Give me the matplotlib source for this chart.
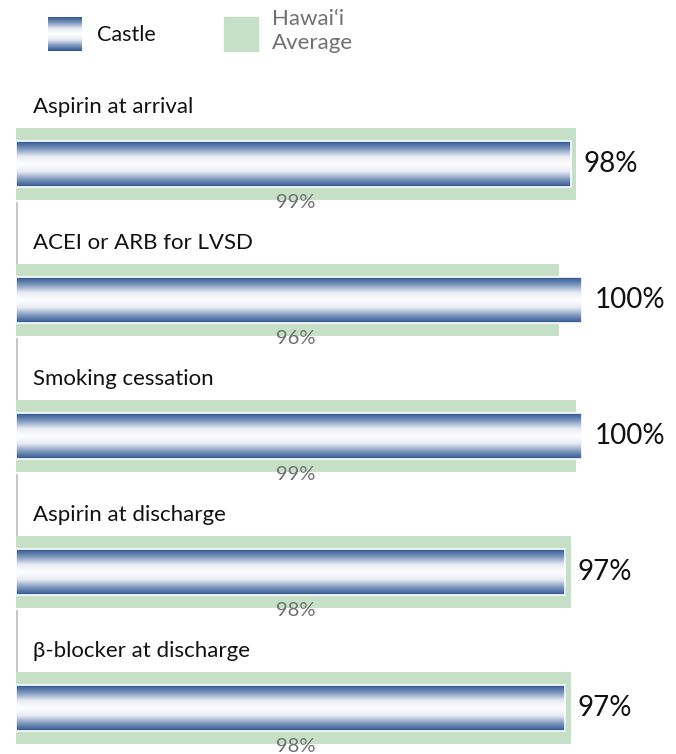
import numpy as np
import matplotlib.pyplot as plt
from matplotlib.colors import LinearSegmentedColormap
from matplotlib.patches import Rectangle

plt.rcParams['font.family'] = ['Lato', 'DejaVu Sans']

measures = ['Aspirin at arrival', 'ACEI or ARB for LVSD', 'Smoking cessation',
            'Aspirin at discharge', 'β-blocker at discharge']
castle = [98, 100, 100, 97, 97]
hawaii = [99, 96, 99, 98, 98]

green = '#c5e0c6'
grey_txt = '#707070'
blue_cmap = LinearSegmentedColormap.from_list(
    'tube', ['#2c5591', '#7f97bd', '#e6eaf2', '#ffffff', '#e6eaf2', '#7f97bd', '#2c5591'])
grad = np.linspace(0, 1, 256).reshape(-1, 1)

W, H = 676, 754
fig = plt.figure(figsize=(W / 100, H / 100), dpi=100)
# axes: x=0 at 16px, 100% at 582px; y: one group = 136px, group 0 centre at 164px
x0, px100 = 16, 566
ax = fig.add_axes([x0 / W, 0, (W - x0) / W, 1])
ax.set_xlim(0, 100 * (W - x0) / px100)
ax.set_ylim((H - 164) / 136, -164 / 136)
ax.axis('off')

gh, bh = 72 / 136, 46 / 136
for i, (m, c, h) in enumerate(zip(measures, castle, hawaii)):
    ax.barh(i, h, height=gh, left=0, color=green, zorder=1)
    bar = ax.barh(i, c, height=bh, left=0, color='none', edgecolor='white',
                  linewidth=1.2, zorder=3)[0]
    im = ax.imshow(grad, cmap=blue_cmap, aspect='auto', zorder=2,
                   extent=(0, c, i + bh / 2, i - bh / 2))
    im.set_clip_path(bar)
    ax.text(3.0, i - 0.42, m, fontsize=16, va='center', ha='left', color='#111111')
    ax.text(c + 2.2, i, f'{c}%', fontsize=20, va='center', ha='left', color='#111111')
    ax.text(49.5, i + 0.285, f'{h}%', fontsize=14.5, va='center', ha='center', color=grey_txt)
    if i < len(measures) - 1:
        ax.plot([0.15, 0.15], [i + gh / 2 + 0.02, i + 1 - gh / 2], color='#bbbbbb',
                lw=1.2, zorder=0)

# legend
lax = fig.add_axes([0, 0, 1, 1])
lax.set_xlim(0, W)
lax.set_ylim(H, 0)
lax.axis('off')
lax.imshow(grad, cmap=blue_cmap, aspect='auto', extent=(48, 82, 51, 17))
lax.add_patch(Rectangle((224, 17), 34, 34, color=green))
lax.text(97, 35, 'Castle', fontsize=15.5, va='center', ha='left', color='#111111')
lax.text(272, 31, 'Hawai‘i\nAverage', fontsize=16, va='center', ha='left',
         color=grey_txt, linespacing=1.3)

fig.savefig('out.png', dpi=100)
